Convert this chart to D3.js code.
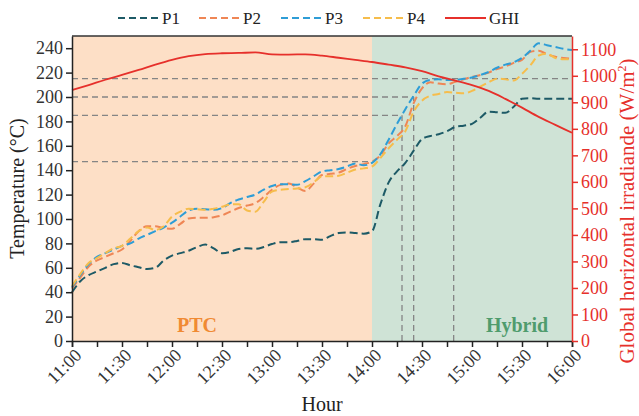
<!DOCTYPE html>
<html>
<head>
<meta charset="utf-8">
<script src="https://cdn.jsdelivr.net/npm/d3@7"></script>
<style>
body { margin: 0; background: #fff; }
svg text { font-family: "Liberation Serif", "Times New Roman", serif; }
</style>
</head>
<body>
<div id="chart"></div>
<script>
// readings every 5 min, 11:00 -> 16:00
const startTime = "11:00";
const stepMin = 5;

const p1 = [40, 49, 54, 57, 60, 63, 64, 62, 60.5, 59, 60, 66, 70, 72, 74, 77, 79, 76, 72, 73,
    75.5, 76, 75.5, 77, 79.5, 81, 81, 82, 83.5, 83.5, 83, 86, 88.5, 89, 88.5, 88, 90, 112, 130, 139,
    146, 156, 165.5, 168, 169.5, 172, 175.5, 176.5, 178, 183, 188, 187.5, 187, 192, 198.5, 199, 198.5, 198.5, 198.5, 198.5,
    198.5];
const p2 = [43, 52, 61, 66, 69, 72, 75, 82, 90, 94, 94, 92.5, 92, 96, 100.5, 101, 101, 101.5, 103, 106,
    109, 111, 113, 118, 124, 128, 129, 126, 123, 129, 136, 137, 138, 141, 143.5, 145, 147, 152, 162, 168,
    176, 195, 207, 212, 211, 210.5, 212.5, 214.5, 216.5, 218, 220, 223, 225, 228, 230.5, 237, 238, 235, 233, 232,
    231.5];
const p3 = [44, 54, 63, 69, 72, 75, 78, 80, 84, 87, 90, 93, 97, 102, 107, 108.5, 108, 107.5, 109, 113,
    116, 118, 120, 124, 127, 128.5, 128.5, 128, 131, 135, 139, 140, 141, 143, 145.5, 144, 146, 153, 165, 178,
    190, 201, 211, 214, 214.5, 214, 214, 215, 216, 218, 220.5, 224, 226.5, 228.5, 232, 238, 244, 242.5, 241, 239.5,
    238.5];
const p4 = [45, 55, 64, 68, 72, 76, 78, 84, 90, 93, 91, 94, 102, 106, 108.5, 108, 107.5, 108.5, 110, 112,
    112, 107, 106, 114, 122.5, 124, 124.5, 125, 126, 130, 135, 135, 135.5, 138, 140.5, 141.5, 143, 150, 158, 165,
    172, 188, 197, 201, 202.5, 204, 203.5, 203, 205, 208.5, 212, 215, 214.5, 213.5, 219, 226, 234, 235.5, 232, 231,
    231];

// GHI every 10 min
const ghiStep = 10;
const ghi = [946, 965, 985, 1003, 1022, 1042, 1060, 1074, 1082, 1085, 1086, 1088, 1081, 1080, 1081, 1076,
    1068, 1060, 1052, 1042, 1032, 1018, 998, 982, 965, 943, 913, 880, 845, 815, 785];

const seriesNames = ["P1", "P2", "P3", "P4"];
const seriesColors = ["#1d5a66", "#ef8655", "#2e9dd6", "#f6bd4c"];
const ghiColor = "#e6302b";

// guide lines
const hLineTemps = [215, 200, 185, 147];
const hLineEnds = ["16:00", "14:25", "14:18", "14:00"];
const vLineTimes = ["14:18", "14:25", "14:49"];
const vLineTemps = [185, 200, 215];

const modeNames = ["PTC", "Hybrid"];
const modeStarts = ["11:00", "14:00"];
const modeEnds = ["14:00", "16:00"];

const tempTicks = d3.range(0, 241, 20);
const ghiTicks = d3.range(0, 1101, 100);

const W = 639, H = 416;
const margin = {top: 36, right: 67, bottom: 75, left: 72};
const width = W - margin.left - margin.right;
const height = H - margin.top - margin.bottom;

const parse = d3.timeParse("%H:%M");
const t0 = parse(startTime);
const pTimes = p1.map((d, i) => d3.timeMinute.offset(t0, i * stepMin));
const ghiTimes = ghi.map((d, i) => d3.timeMinute.offset(t0, i * ghiStep));

const svg = d3.select("#chart").append("svg")
    .attr("width", W)
    .attr("height", H);

const g = svg.append("g")
    .attr("transform", `translate(${margin.left},${margin.top})`);

const x = d3.scaleTime()
    .domain([parse("11:00"), parse("16:00")])
    .range([0, width]);
const y = d3.scaleLinear().domain([0, 250]).range([height, 0]);
const y2 = d3.scaleLinear().domain([0, 1150]).range([height, 0]);

// background regions
const modeFill = ["#fddfc6", "#cfe3d6"];
const modeText = ["#f08a33", "#4f9c6d"];
modeNames.forEach((m, i) => {
    g.append("rect")
        .attr("x", x(parse(modeStarts[i])))
        .attr("y", 0)
        .attr("width", x(parse(modeEnds[i])) - x(parse(modeStarts[i])))
        .attr("height", height)
        .attr("fill", modeFill[i]);
});

// guide lines
const guideStyle = sel => sel.attr("stroke", "#858585")
    .attr("stroke-width", 1.3)
    .attr("stroke-dasharray", "6,4")
    .attr("fill", "none");
hLineTemps.forEach((t, i) => {
    g.append("line")
        .attr("x1", 0).attr("x2", x(parse(hLineEnds[i])))
        .attr("y1", y(t)).attr("y2", y(t))
        .call(guideStyle);
});
vLineTimes.forEach((t, i) => {
    g.append("line")
        .attr("x1", x(parse(t))).attr("x2", x(parse(t)))
        .attr("y1", height).attr("y2", y(vLineTemps[i]))
        .call(guideStyle);
});

// mode labels
modeNames.forEach((m, i) => {
    const cx = i === 0 ? x(parse("12:15")) : x(parse("15:27"));
    g.append("text")
        .attr("x", cx)
        .attr("y", height - 9)
        .attr("text-anchor", "middle")
        .attr("font-size", 20)
        .attr("font-weight", "bold")
        .attr("fill", modeText[i])
        .text(m);
});

// series
const line = d3.line()
    .x((d, i) => x(pTimes[i]))
    .y(d => y(d))
    .curve(d3.curveMonotoneX);
[p1, p2, p3, p4].forEach((s, i) => {
    g.append("path")
        .datum(s)
        .attr("d", line)
        .attr("fill", "none")
        .attr("stroke", seriesColors[i])
        .attr("stroke-width", 2)
        .attr("stroke-dasharray", "8,4");
});

const ghiLine = d3.line()
    .x((d, i) => x(ghiTimes[i]))
    .y(d => y2(d))
    .curve(d3.curveMonotoneX);
g.append("path")
    .datum(ghi)
    .attr("d", ghiLine)
    .attr("fill", "none")
    .attr("stroke", ghiColor)
    .attr("stroke-width", 1.8);

// frame top
g.append("line")
    .attr("x1", 0).attr("x2", width)
    .attr("y1", 0).attr("y2", 0)
    .attr("stroke", "#333").attr("stroke-width", 1.5);

// axes
const xAxis = g.append("g")
    .attr("transform", `translate(0,${height})`)
    .call(d3.axisBottom(x)
        .ticks(d3.timeMinute.every(15))
        .tickSizeOuter(0)
        .tickSize(6)
        .tickFormat(d => d.getMinutes() % 30 === 0 ? d3.timeFormat("%H:%M")(d) : ""));
xAxis.selectAll("text")
    .attr("font-size", 18)
    .attr("fill", "#333")
    .attr("text-anchor", "end")
    .attr("transform", "rotate(-45)")
    .attr("dx", "-0.2em")
    .attr("dy", "0.5em");

const yAxis = g.append("g")
    .call(d3.axisLeft(y).tickValues(tempTicks).tickSize(6).tickSizeOuter(0));
yAxis.selectAll("text").attr("font-size", 18).attr("fill", "#333");

const y2Axis = g.append("g")
    .attr("transform", `translate(${width},0)`)
    .call(d3.axisRight(y2).tickValues(ghiTicks).tickSize(6).tickSizeOuter(0).tickFormat(d3.format("d")));
y2Axis.selectAll("text").attr("font-size", 18).attr("fill", ghiColor);
y2Axis.selectAll("line, path").attr("stroke", ghiColor).attr("stroke-width", 1.5);

[xAxis, yAxis].forEach(a => a.selectAll("line, path").attr("stroke", "#222").attr("stroke-width", 1.5));

// axis titles
svg.append("text")
    .attr("transform", `translate(24,${margin.top + height / 2}) rotate(-90)`)
    .attr("text-anchor", "middle")
    .attr("font-size", 20)
    .attr("fill", "#222")
    .text("Temperature (°C)");

const rt = svg.append("text")
    .attr("transform", `translate(634,211) rotate(-90)`)
    .attr("text-anchor", "middle")
    .attr("font-size", 21)
    .attr("fill", ghiColor);
rt.append("tspan").text("Global horizontal irradiande (W/m");
rt.append("tspan").attr("font-size", 12).attr("dy", -8).text("2");
rt.append("tspan").attr("dy", 8).text(")");

svg.append("text")
    .attr("x", margin.left + width / 2)
    .attr("y", 411)
    .attr("text-anchor", "middle")
    .attr("font-size", 20)
    .attr("fill", "#222")
    .text("Hour");

// legend
const legendData = seriesNames.map((n, i) => ({name: n, color: seriesColors[i], dash: "7,4"}))
    .concat([{name: "GHI", color: ghiColor, dash: null}]);
const legendX = [118, 199, 281, 363, 445];
const legend = svg.append("g").attr("transform", "translate(0,18)");
const item = legend.selectAll("g")
    .data(legendData)
    .join("g")
    .attr("transform", (d, i) => `translate(${legendX[i]},0)`);
item.append("line")
    .attr("x1", 0).attr("x2", 41)
    .attr("stroke", d => d.color)
    .attr("stroke-width", 2.2)
    .attr("stroke-dasharray", d => d.dash);
item.append("text")
    .attr("x", 44)
    .attr("dy", "0.35em")
    .attr("font-size", 17)
    .attr("fill", "#222")
    .text(d => d.name);
</script>
</body>
</html>
